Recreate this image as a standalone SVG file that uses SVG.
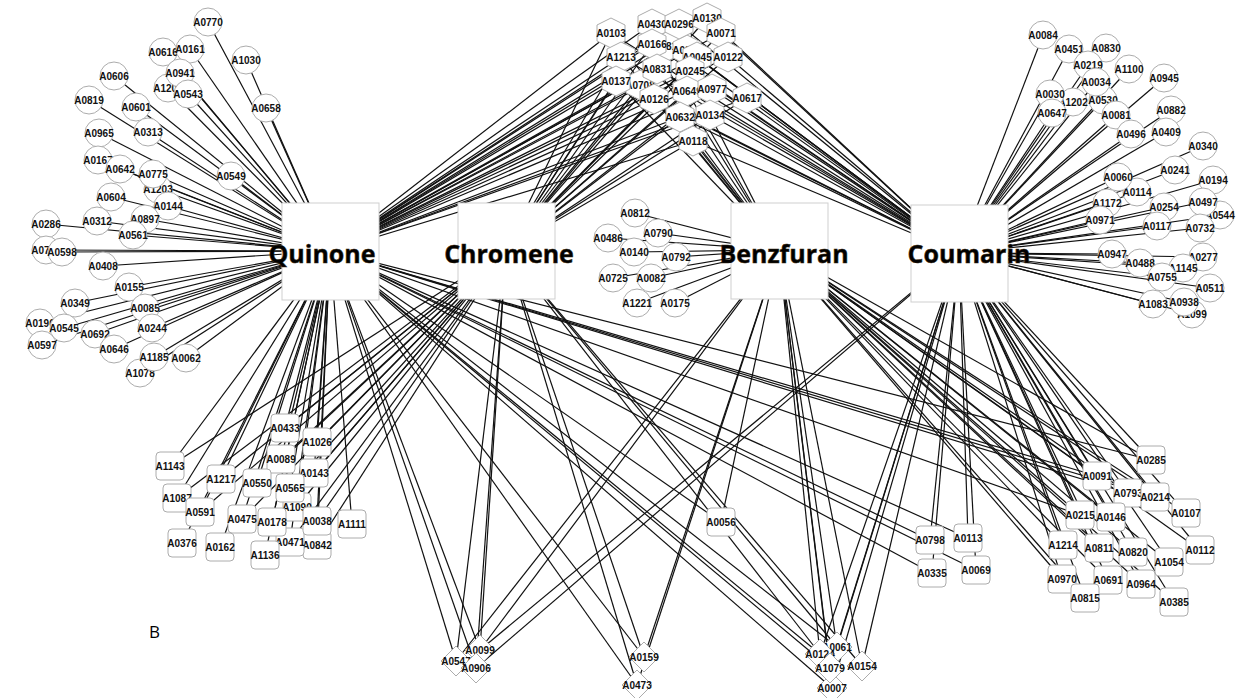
<svg xmlns="http://www.w3.org/2000/svg" width="1244" height="698" viewBox="0 0 1244 698">
<style>
.e line{stroke:#111;stroke-width:1.2;fill:none}
.n use{fill:#fff;stroke:#acacac;stroke-width:1}
.n text{font-family:"Liberation Sans",Arial,sans-serif;font-weight:bold;font-size:10px;fill:#111;text-anchor:middle}
.box rect{fill:#fff;stroke:#cfcfcf;stroke-width:1}
.box text{font-family:"Open Sans","Noto Sans",sans-serif;font-weight:bold;font-size:25px;fill:#000;stroke:#3a2a10;stroke-width:0.5;text-anchor:middle}
</style>
<defs>
<circle id="ci" r="14"/>
<polygon id="hx" points="0,-15 14,-8 14,8 0,15 -14,8 -14,-8"/>
<rect id="rr" x="-14" y="-14" width="28" height="28" rx="4"/>
<polygon id="dm" points="0,-15 15,0 0,15 -15,0"/>
</defs>
<rect width="1244" height="698" fill="#fff"/>
<g id="connectors" class="e">
<line x1="208" y1="22" x2="330" y2="251"/><line x1="246" y1="60" x2="330" y2="251"/><line x1="163" y1="52" x2="330" y2="251"/><line x1="190" y1="49" x2="330" y2="251"/><line x1="180" y1="73" x2="330" y2="251"/><line x1="168" y1="88" x2="330" y2="251"/><line x1="188" y1="94" x2="330" y2="251"/><line x1="114" y1="76" x2="330" y2="251"/><line x1="89" y1="100" x2="330" y2="251"/><line x1="136" y1="107" x2="330" y2="251"/><line x1="266" y1="108" x2="330" y2="251"/><line x1="148" y1="132" x2="330" y2="251"/><line x1="99" y1="133" x2="330" y2="251"/><line x1="231" y1="176" x2="330" y2="251"/><line x1="98" y1="160" x2="330" y2="251"/><line x1="120" y1="169" x2="330" y2="251"/><line x1="153" y1="174" x2="330" y2="251"/><line x1="158" y1="189" x2="330" y2="251"/><line x1="111" y1="197" x2="330" y2="251"/><line x1="168" y1="206" x2="330" y2="251"/><line x1="97" y1="221" x2="330" y2="251"/><line x1="145" y1="219" x2="330" y2="251"/><line x1="46" y1="224" x2="330" y2="251"/><line x1="133" y1="235" x2="330" y2="251"/><line x1="46" y1="250" x2="330" y2="251"/><line x1="62" y1="252" x2="330" y2="251"/><line x1="103" y1="266" x2="330" y2="251"/><line x1="129" y1="287" x2="330" y2="251"/><line x1="75" y1="303" x2="330" y2="251"/><line x1="145" y1="308" x2="330" y2="251"/><line x1="40" y1="323" x2="330" y2="251"/><line x1="64" y1="328" x2="330" y2="251"/><line x1="95" y1="334" x2="330" y2="251"/><line x1="152" y1="328" x2="330" y2="251"/><line x1="42" y1="345" x2="330" y2="251"/><line x1="114" y1="349" x2="330" y2="251"/><line x1="154" y1="357" x2="330" y2="251"/><line x1="186" y1="358" x2="330" y2="251"/><line x1="140" y1="373" x2="330" y2="251"/>
<line x1="1043" y1="35" x2="959" y2="253"/><line x1="1069" y1="49" x2="959" y2="253"/><line x1="1106" y1="48" x2="959" y2="253"/><line x1="1088" y1="65" x2="959" y2="253"/><line x1="1129" y1="69" x2="959" y2="253"/><line x1="1164" y1="78" x2="959" y2="253"/><line x1="1096" y1="82" x2="959" y2="253"/><line x1="1050" y1="94" x2="959" y2="253"/><line x1="1073" y1="102" x2="959" y2="253"/><line x1="1103" y1="100" x2="959" y2="253"/><line x1="1052" y1="113" x2="959" y2="253"/><line x1="1116" y1="115" x2="959" y2="253"/><line x1="1171" y1="110" x2="959" y2="253"/><line x1="1131" y1="134" x2="959" y2="253"/><line x1="1166" y1="132" x2="959" y2="253"/><line x1="1203" y1="146" x2="959" y2="253"/><line x1="1118" y1="177" x2="959" y2="253"/><line x1="1175" y1="170" x2="959" y2="253"/><line x1="1213" y1="180" x2="959" y2="253"/><line x1="1137" y1="192" x2="959" y2="253"/><line x1="1107" y1="203" x2="959" y2="253"/><line x1="1164" y1="207" x2="959" y2="253"/><line x1="1203" y1="202" x2="959" y2="253"/><line x1="1220" y1="215" x2="959" y2="253"/><line x1="1100" y1="220" x2="959" y2="253"/><line x1="1157" y1="226" x2="959" y2="253"/><line x1="1200" y1="228" x2="959" y2="253"/><line x1="1112" y1="254" x2="959" y2="253"/><line x1="1140" y1="263" x2="959" y2="253"/><line x1="1203" y1="257" x2="959" y2="253"/><line x1="1183" y1="268" x2="959" y2="253"/><line x1="1162" y1="277" x2="959" y2="253"/><line x1="1210" y1="288" x2="959" y2="253"/><line x1="1153" y1="304" x2="959" y2="253"/><line x1="1184" y1="302" x2="959" y2="253"/><line x1="1192" y1="314" x2="959" y2="253"/>
<line x1="635" y1="213" x2="779" y2="250"/><line x1="608" y1="238" x2="779" y2="250"/><line x1="658" y1="233" x2="779" y2="250"/><line x1="634" y1="252" x2="779" y2="250"/><line x1="676" y1="257" x2="779" y2="250"/><line x1="613" y1="278" x2="779" y2="250"/><line x1="651" y1="278" x2="779" y2="250"/><line x1="637" y1="303" x2="779" y2="250"/><line x1="675" y1="303" x2="779" y2="250"/>
<line x1="611" y1="33" x2="330" y2="251"/><line x1="652" y1="24" x2="330" y2="251"/><line x1="679" y1="24" x2="330" y2="251"/><line x1="707" y1="18" x2="330" y2="251"/><line x1="721" y1="33" x2="330" y2="251"/><line x1="652" y1="44" x2="330" y2="251"/><line x1="668" y1="46" x2="330" y2="251"/><line x1="687" y1="50" x2="330" y2="251"/><line x1="621" y1="57" x2="330" y2="251"/><line x1="697" y1="57" x2="330" y2="251"/><line x1="728" y1="57" x2="330" y2="251"/><line x1="657" y1="69" x2="330" y2="251"/><line x1="690" y1="71" x2="330" y2="251"/><line x1="616" y1="81" x2="330" y2="251"/><line x1="640" y1="85" x2="330" y2="251"/><line x1="687" y1="91" x2="330" y2="251"/><line x1="712" y1="89" x2="330" y2="251"/><line x1="747" y1="98" x2="330" y2="251"/><line x1="654" y1="99" x2="330" y2="251"/><line x1="680" y1="117" x2="330" y2="251"/><line x1="710" y1="115" x2="330" y2="251"/><line x1="693" y1="141" x2="330" y2="251"/>
<line x1="611" y1="33" x2="506" y2="250"/><line x1="652" y1="24" x2="506" y2="250"/><line x1="679" y1="24" x2="506" y2="250"/><line x1="707" y1="18" x2="506" y2="250"/><line x1="721" y1="33" x2="506" y2="250"/><line x1="652" y1="44" x2="506" y2="250"/><line x1="621" y1="57" x2="506" y2="250"/><line x1="697" y1="57" x2="506" y2="250"/><line x1="728" y1="57" x2="506" y2="250"/><line x1="657" y1="69" x2="506" y2="250"/><line x1="690" y1="71" x2="506" y2="250"/><line x1="616" y1="81" x2="506" y2="250"/><line x1="640" y1="85" x2="506" y2="250"/><line x1="687" y1="91" x2="506" y2="250"/><line x1="712" y1="89" x2="506" y2="250"/><line x1="747" y1="98" x2="506" y2="250"/><line x1="654" y1="99" x2="506" y2="250"/><line x1="680" y1="117" x2="506" y2="250"/><line x1="710" y1="115" x2="506" y2="250"/><line x1="693" y1="141" x2="506" y2="250"/>
<line x1="611" y1="33" x2="779" y2="250"/><line x1="621" y1="57" x2="779" y2="250"/><line x1="616" y1="81" x2="779" y2="250"/><line x1="652" y1="44" x2="779" y2="250"/><line x1="657" y1="69" x2="779" y2="250"/><line x1="654" y1="99" x2="779" y2="250"/><line x1="687" y1="91" x2="779" y2="250"/><line x1="680" y1="117" x2="779" y2="250"/><line x1="710" y1="115" x2="779" y2="250"/><line x1="693" y1="141" x2="779" y2="250"/>
<line x1="611" y1="33" x2="959" y2="253"/><line x1="652" y1="24" x2="959" y2="253"/><line x1="679" y1="24" x2="959" y2="253"/><line x1="707" y1="18" x2="959" y2="253"/><line x1="721" y1="33" x2="959" y2="253"/><line x1="652" y1="44" x2="959" y2="253"/><line x1="668" y1="46" x2="959" y2="253"/><line x1="687" y1="50" x2="959" y2="253"/><line x1="621" y1="57" x2="959" y2="253"/><line x1="697" y1="57" x2="959" y2="253"/><line x1="728" y1="57" x2="959" y2="253"/><line x1="657" y1="69" x2="959" y2="253"/><line x1="690" y1="71" x2="959" y2="253"/><line x1="616" y1="81" x2="959" y2="253"/><line x1="687" y1="91" x2="959" y2="253"/><line x1="712" y1="89" x2="959" y2="253"/><line x1="747" y1="98" x2="959" y2="253"/><line x1="654" y1="99" x2="959" y2="253"/><line x1="680" y1="117" x2="959" y2="253"/><line x1="710" y1="115" x2="959" y2="253"/><line x1="693" y1="141" x2="959" y2="253"/>
<line x1="170" y1="466" x2="330" y2="251"/><line x1="285" y1="428" x2="330" y2="251"/><line x1="317" y1="442" x2="330" y2="251"/><line x1="281" y1="459" x2="330" y2="251"/><line x1="314" y1="473" x2="330" y2="251"/><line x1="221" y1="479" x2="330" y2="251"/><line x1="257" y1="483" x2="330" y2="251"/><line x1="290" y1="488" x2="330" y2="251"/><line x1="177" y1="498" x2="330" y2="251"/><line x1="200" y1="512" x2="330" y2="251"/><line x1="297" y1="507" x2="330" y2="251"/><line x1="242" y1="519" x2="330" y2="251"/><line x1="272" y1="522" x2="330" y2="251"/><line x1="317" y1="521" x2="330" y2="251"/><line x1="352" y1="524" x2="330" y2="251"/><line x1="182" y1="543" x2="330" y2="251"/><line x1="220" y1="547" x2="330" y2="251"/><line x1="290" y1="542" x2="330" y2="251"/><line x1="317" y1="545" x2="330" y2="251"/><line x1="265" y1="555" x2="330" y2="251"/>
<line x1="170" y1="466" x2="506" y2="250"/><line x1="285" y1="428" x2="506" y2="250"/><line x1="317" y1="442" x2="506" y2="250"/><line x1="281" y1="459" x2="506" y2="250"/><line x1="314" y1="473" x2="506" y2="250"/><line x1="221" y1="479" x2="506" y2="250"/><line x1="257" y1="483" x2="506" y2="250"/><line x1="290" y1="488" x2="506" y2="250"/><line x1="177" y1="498" x2="506" y2="250"/><line x1="200" y1="512" x2="506" y2="250"/><line x1="297" y1="507" x2="506" y2="250"/><line x1="242" y1="519" x2="506" y2="250"/><line x1="272" y1="522" x2="506" y2="250"/><line x1="317" y1="521" x2="506" y2="250"/><line x1="290" y1="542" x2="506" y2="250"/><line x1="317" y1="545" x2="506" y2="250"/>
<line x1="1151" y1="460" x2="959" y2="253"/><line x1="1097" y1="476" x2="959" y2="253"/><line x1="1128" y1="493" x2="959" y2="253"/><line x1="1155" y1="497" x2="959" y2="253"/><line x1="1186" y1="513" x2="959" y2="253"/><line x1="1080" y1="515" x2="959" y2="253"/><line x1="1111" y1="517" x2="959" y2="253"/><line x1="1063" y1="545" x2="959" y2="253"/><line x1="1099" y1="548" x2="959" y2="253"/><line x1="1133" y1="552" x2="959" y2="253"/><line x1="1200" y1="550" x2="959" y2="253"/><line x1="1169" y1="562" x2="959" y2="253"/><line x1="1062" y1="579" x2="959" y2="253"/><line x1="1108" y1="580" x2="959" y2="253"/><line x1="1141" y1="584" x2="959" y2="253"/><line x1="1085" y1="598" x2="959" y2="253"/><line x1="1174" y1="602" x2="959" y2="253"/>
<line x1="1151" y1="460" x2="779" y2="250"/><line x1="1097" y1="476" x2="779" y2="250"/><line x1="1128" y1="493" x2="779" y2="250"/><line x1="1155" y1="497" x2="779" y2="250"/><line x1="1186" y1="513" x2="779" y2="250"/><line x1="1080" y1="515" x2="779" y2="250"/><line x1="1111" y1="517" x2="779" y2="250"/><line x1="1063" y1="545" x2="779" y2="250"/><line x1="1099" y1="548" x2="779" y2="250"/><line x1="1133" y1="552" x2="779" y2="250"/><line x1="1200" y1="550" x2="779" y2="250"/><line x1="1169" y1="562" x2="779" y2="250"/><line x1="1062" y1="579" x2="779" y2="250"/><line x1="1108" y1="580" x2="779" y2="250"/><line x1="1141" y1="584" x2="779" y2="250"/><line x1="1085" y1="598" x2="779" y2="250"/><line x1="1174" y1="602" x2="779" y2="250"/>
<line x1="1151" y1="460" x2="330" y2="251"/><line x1="1097" y1="476" x2="330" y2="251"/><line x1="1128" y1="493" x2="330" y2="251"/><line x1="1155" y1="497" x2="330" y2="251"/><line x1="1080" y1="515" x2="330" y2="251"/>
<line x1="721" y1="522" x2="779" y2="250"/><line x1="721" y1="522" x2="330" y2="251"/>
<line x1="930" y1="540" x2="330" y2="251"/><line x1="930" y1="540" x2="959" y2="253"/><line x1="968" y1="538" x2="330" y2="251"/><line x1="968" y1="538" x2="959" y2="253"/><line x1="932" y1="573" x2="330" y2="251"/><line x1="932" y1="573" x2="959" y2="253"/><line x1="976" y1="570" x2="330" y2="251"/><line x1="976" y1="570" x2="959" y2="253"/>
<line x1="480" y1="650" x2="330" y2="251"/><line x1="480" y1="650" x2="506" y2="250"/><line x1="480" y1="650" x2="779" y2="250"/><line x1="480" y1="650" x2="959" y2="253"/>
<line x1="456" y1="661" x2="330" y2="251"/><line x1="456" y1="661" x2="506" y2="250"/><line x1="456" y1="661" x2="779" y2="250"/>
<line x1="476" y1="668" x2="330" y2="251"/><line x1="476" y1="668" x2="506" y2="250"/><line x1="476" y1="668" x2="959" y2="253"/>
<line x1="644" y1="657" x2="330" y2="251"/><line x1="644" y1="657" x2="506" y2="250"/><line x1="644" y1="657" x2="779" y2="250"/>
<line x1="637" y1="685" x2="330" y2="251"/><line x1="637" y1="685" x2="506" y2="250"/><line x1="637" y1="685" x2="779" y2="250"/>
<line x1="837" y1="647" x2="330" y2="251"/><line x1="837" y1="647" x2="506" y2="250"/><line x1="837" y1="647" x2="779" y2="250"/><line x1="837" y1="647" x2="959" y2="253"/>
<line x1="820" y1="654" x2="330" y2="251"/><line x1="820" y1="654" x2="506" y2="250"/><line x1="820" y1="654" x2="779" y2="250"/><line x1="820" y1="654" x2="959" y2="253"/>
<line x1="830" y1="668" x2="330" y2="251"/><line x1="830" y1="668" x2="779" y2="250"/><line x1="830" y1="668" x2="959" y2="253"/>
<line x1="862" y1="666" x2="506" y2="250"/><line x1="862" y1="666" x2="779" y2="250"/><line x1="862" y1="666" x2="959" y2="253"/>
<line x1="832" y1="688" x2="330" y2="251"/><line x1="832" y1="688" x2="779" y2="250"/><line x1="832" y1="688" x2="959" y2="253"/>
</g>
<g class="box">
<g id="Quinone"><rect x="282" y="203" width="97" height="97"/><text x="322" y="263">Quinone</text></g>
<g id="Chromene"><rect x="458" y="203" width="97" height="96"/><text x="509" y="263">Chromene</text></g>
<g id="Benzfuran"><rect x="731" y="203" width="97" height="96"/><text x="784" y="263">Benzfuran</text></g>
<g id="Coumarin"><rect x="911" y="205" width="97" height="97"/><text x="969" y="263">Coumarin</text></g>
</g>
<g class="n">
<g id="A0770" transform="translate(208,22)"><use href="#ci"/><text y="3.5">A0770</text></g>
<g id="A1030" transform="translate(246,60)"><use href="#ci"/><text y="3.5">A1030</text></g>
<g id="A0616" transform="translate(163,52)"><use href="#ci"/><text y="3.5">A0616</text></g>
<g id="A0161" transform="translate(190,49)"><use href="#ci"/><text y="3.5">A0161</text></g>
<g id="A1200" transform="translate(168,88)"><use href="#ci"/><text y="3.5">A1200</text></g>
<g id="A0941" transform="translate(180,73)"><use href="#ci"/><text y="3.5">A0941</text></g>
<g id="A0543" transform="translate(188,94)"><use href="#ci"/><text y="3.5">A0543</text></g>
<g id="A0606" transform="translate(114,76)"><use href="#ci"/><text y="3.5">A0606</text></g>
<g id="A0819" transform="translate(89,100)"><use href="#ci"/><text y="3.5">A0819</text></g>
<g id="A0601" transform="translate(136,107)"><use href="#ci"/><text y="3.5">A0601</text></g>
<g id="A0658" transform="translate(266,108)"><use href="#ci"/><text y="3.5">A0658</text></g>
<g id="A0313" transform="translate(148,132)"><use href="#ci"/><text y="3.5">A0313</text></g>
<g id="A0965" transform="translate(99,133)"><use href="#ci"/><text y="3.5">A0965</text></g>
<g id="A0549" transform="translate(231,176)"><use href="#ci"/><text y="3.5">A0549</text></g>
<g id="A0167" transform="translate(98,160)"><use href="#ci"/><text y="3.5">A0167</text></g>
<g id="A0642" transform="translate(120,169)"><use href="#ci"/><text y="3.5">A0642</text></g>
<g id="A1203" transform="translate(158,189)"><use href="#ci"/><text y="3.5">A1203</text></g>
<g id="A0775" transform="translate(153,174)"><use href="#ci"/><text y="3.5">A0775</text></g>
<g id="A0604" transform="translate(111,197)"><use href="#ci"/><text y="3.5">A0604</text></g>
<g id="A0144" transform="translate(168,206)"><use href="#ci"/><text y="3.5">A0144</text></g>
<g id="A0312" transform="translate(97,221)"><use href="#ci"/><text y="3.5">A0312</text></g>
<g id="A0897" transform="translate(145,219)"><use href="#ci"/><text y="3.5">A0897</text></g>
<g id="A0286" transform="translate(46,224)"><use href="#ci"/><text y="3.5">A0286</text></g>
<g id="A0561" transform="translate(133,235)"><use href="#ci"/><text y="3.5">A0561</text></g>
<g id="A0787" transform="translate(46,250)"><use href="#ci"/><text y="3.5">A0787</text></g>
<g id="A0598" transform="translate(62,252)"><use href="#ci"/><text y="3.5">A0598</text></g>
<g id="A0408" transform="translate(103,266)"><use href="#ci"/><text y="3.5">A0408</text></g>
<g id="A0155" transform="translate(129,287)"><use href="#ci"/><text y="3.5">A0155</text></g>
<g id="A0349" transform="translate(75,303)"><use href="#ci"/><text y="3.5">A0349</text></g>
<g id="A0085" transform="translate(145,308)"><use href="#ci"/><text y="3.5">A0085</text></g>
<g id="A0196" transform="translate(40,323)"><use href="#ci"/><text y="3.5">A0196</text></g>
<g id="A0597" transform="translate(42,345)"><use href="#ci"/><text y="3.5">A0597</text></g>
<g id="A0545" transform="translate(64,328)"><use href="#ci"/><text y="3.5">A0545</text></g>
<g id="A0692" transform="translate(95,334)"><use href="#ci"/><text y="3.5">A0692</text></g>
<g id="A0244" transform="translate(152,328)"><use href="#ci"/><text y="3.5">A0244</text></g>
<g id="A0646" transform="translate(114,349)"><use href="#ci"/><text y="3.5">A0646</text></g>
<g id="A1078" transform="translate(140,373)"><use href="#ci"/><text y="3.5">A1078</text></g>
<g id="A1185" transform="translate(154,357)"><use href="#ci"/><text y="3.5">A1185</text></g>
<g id="A0062" transform="translate(186,358)"><use href="#ci"/><text y="3.5">A0062</text></g>

<g id="A0084" transform="translate(1043,35)"><use href="#ci"/><text y="3.5">A0084</text></g>
<g id="A0451" transform="translate(1069,49)"><use href="#ci"/><text y="3.5">A0451</text></g>
<g id="A0830" transform="translate(1106,48)"><use href="#ci"/><text y="3.5">A0830</text></g>
<g id="A0219" transform="translate(1088,65)"><use href="#ci"/><text y="3.5">A0219</text></g>
<g id="A1100" transform="translate(1129,69)"><use href="#ci"/><text y="3.5">A1100</text></g>
<g id="A0945" transform="translate(1164,78)"><use href="#ci"/><text y="3.5">A0945</text></g>
<g id="A0530" transform="translate(1103,100)"><use href="#ci"/><text y="3.5">A0530</text></g>
<g id="A0034" transform="translate(1096,82)"><use href="#ci"/><text y="3.5">A0034</text></g>
<g id="A1202" transform="translate(1073,102)"><use href="#ci"/><text y="3.5">A1202</text></g>
<g id="A0030" transform="translate(1050,94)"><use href="#ci"/><text y="3.5">A0030</text></g>
<g id="A0647" transform="translate(1052,113)"><use href="#ci"/><text y="3.5">A0647</text></g>
<g id="A0081" transform="translate(1116,115)"><use href="#ci"/><text y="3.5">A0081</text></g>
<g id="A0882" transform="translate(1171,110)"><use href="#ci"/><text y="3.5">A0882</text></g>
<g id="A0496" transform="translate(1131,134)"><use href="#ci"/><text y="3.5">A0496</text></g>
<g id="A0409" transform="translate(1166,132)"><use href="#ci"/><text y="3.5">A0409</text></g>
<g id="A0340" transform="translate(1203,146)"><use href="#ci"/><text y="3.5">A0340</text></g>
<g id="A0114" transform="translate(1137,192)"><use href="#ci"/><text y="3.5">A0114</text></g>
<g id="A0060" transform="translate(1118,177)"><use href="#ci"/><text y="3.5">A0060</text></g>
<g id="A0241" transform="translate(1175,170)"><use href="#ci"/><text y="3.5">A0241</text></g>
<g id="A0194" transform="translate(1213,180)"><use href="#ci"/><text y="3.5">A0194</text></g>
<g id="A1172" transform="translate(1107,203)"><use href="#ci"/><text y="3.5">A1172</text></g>
<g id="A0544" transform="translate(1220,215)"><use href="#ci"/><text y="3.5">A0544</text></g>
<g id="A0497" transform="translate(1203,202)"><use href="#ci"/><text y="3.5">A0497</text></g>
<g id="A0254" transform="translate(1164,207)"><use href="#ci"/><text y="3.5">A0254</text></g>
<g id="A0971" transform="translate(1100,220)"><use href="#ci"/><text y="3.5">A0971</text></g>
<g id="A0732" transform="translate(1200,228)"><use href="#ci"/><text y="3.5">A0732</text></g>
<g id="A0117" transform="translate(1157,226)"><use href="#ci"/><text y="3.5">A0117</text></g>
<g id="A0277" transform="translate(1203,257)"><use href="#ci"/><text y="3.5">A0277</text></g>
<g id="A1145" transform="translate(1183,268)"><use href="#ci"/><text y="3.5">A1145</text></g>
<g id="A0947" transform="translate(1112,254)"><use href="#ci"/><text y="3.5">A0947</text></g>
<g id="A0488" transform="translate(1140,263)"><use href="#ci"/><text y="3.5">A0488</text></g>
<g id="A0755" transform="translate(1162,277)"><use href="#ci"/><text y="3.5">A0755</text></g>
<g id="A0511" transform="translate(1210,288)"><use href="#ci"/><text y="3.5">A0511</text></g>
<g id="A1099" transform="translate(1192,314)"><use href="#ci"/><text y="3.5">A1099</text></g>
<g id="A1083" transform="translate(1153,304)"><use href="#ci"/><text y="3.5">A1083</text></g>
<g id="A0938" transform="translate(1184,302)"><use href="#ci"/><text y="3.5">A0938</text></g>

<g id="A0812" transform="translate(635,213)"><use href="#ci"/><text y="3.5">A0812</text></g>
<g id="A0486" transform="translate(608,238)"><use href="#ci"/><text y="3.5">A0486</text></g>
<g id="A0790" transform="translate(658,233)"><use href="#ci"/><text y="3.5">A0790</text></g>
<g id="A0140" transform="translate(634,252)"><use href="#ci"/><text y="3.5">A0140</text></g>
<g id="A0792" transform="translate(676,257)"><use href="#ci"/><text y="3.5">A0792</text></g>
<g id="A0725" transform="translate(613,278)"><use href="#ci"/><text y="3.5">A0725</text></g>
<g id="A0082" transform="translate(651,278)"><use href="#ci"/><text y="3.5">A0082</text></g>
<g id="A1221" transform="translate(637,303)"><use href="#ci"/><text y="3.5">A1221</text></g>
<g id="A0175" transform="translate(675,303)"><use href="#ci"/><text y="3.5">A0175</text></g>

<g id="h-A0815" transform="translate(668,46)"><use href="#hx"/><text y="3.5">A0815</text></g>
<g id="A0354" transform="translate(687,50)"><use href="#hx"/><text y="3.5">A0354</text></g>
<g id="A0045" transform="translate(697,57)"><use href="#hx"/><text y="3.5">A0045</text></g>
<g id="A0708" transform="translate(640,85)"><use href="#hx"/><text y="3.5">A0708</text></g>
<g id="A0103" transform="translate(611,33)"><use href="#hx"/><text y="3.5">A0103</text></g>
<g id="A0430" transform="translate(652,24)"><use href="#hx"/><text y="3.5">A0430</text></g>
<g id="A0296" transform="translate(679,24)"><use href="#hx"/><text y="3.5">A0296</text></g>
<g id="A0130" transform="translate(707,18)"><use href="#hx"/><text y="3.5">A0130</text></g>
<g id="A0071" transform="translate(721,33)"><use href="#hx"/><text y="3.5">A0071</text></g>
<g id="A0166" transform="translate(652,44)"><use href="#hx"/><text y="3.5">A0166</text></g>
<g id="A1213" transform="translate(621,57)"><use href="#hx"/><text y="3.5">A1213</text></g>
<g id="A0122" transform="translate(728,57)"><use href="#hx"/><text y="3.5">A0122</text></g>
<g id="A0831" transform="translate(657,69)"><use href="#hx"/><text y="3.5">A0831</text></g>
<g id="A0245" transform="translate(690,71)"><use href="#hx"/><text y="3.5">A0245</text></g>
<g id="A0137" transform="translate(616,81)"><use href="#hx"/><text y="3.5">A0137</text></g>
<g id="A0649" transform="translate(687,91)"><use href="#hx"/><text y="3.5">A0649</text></g>
<g id="A0977" transform="translate(712,89)"><use href="#hx"/><text y="3.5">A0977</text></g>
<g id="A0617" transform="translate(747,98)"><use href="#hx"/><text y="3.5">A0617</text></g>
<g id="A0126" transform="translate(654,99)"><use href="#hx"/><text y="3.5">A0126</text></g>
<g id="A0632" transform="translate(680,117)"><use href="#hx"/><text y="3.5">A0632</text></g>
<g id="A0134" transform="translate(710,115)"><use href="#hx"/><text y="3.5">A0134</text></g>
<g id="A0118" transform="translate(693,141)"><use href="#hx"/><text y="3.5">A0118</text></g>

<g id="A0433" transform="translate(285,428)"><use href="#rr"/><text y="3.5">A0433</text></g>
<g id="A1026" transform="translate(317,442)"><use href="#rr"/><text y="3.5">A1026</text></g>
<g id="A0089" transform="translate(281,459)"><use href="#rr"/><text y="3.5">A0089</text></g>
<g id="A0143" transform="translate(314,473)"><use href="#rr"/><text y="3.5">A0143</text></g>
<g id="A1090" transform="translate(297,507)"><use href="#rr"/><text y="3.5">A1090</text></g>
<g id="A0565" transform="translate(290,488)"><use href="#rr"/><text y="3.5">A0565</text></g>
<g id="A1217" transform="translate(221,479)"><use href="#rr"/><text y="3.5">A1217</text></g>
<g id="A0550" transform="translate(257,483)"><use href="#rr"/><text y="3.5">A0550</text></g>
<g id="A1143" transform="translate(170,466)"><use href="#rr"/><text y="3.5">A1143</text></g>
<g id="A1087" transform="translate(177,498)"><use href="#rr"/><text y="3.5">A1087</text></g>
<g id="A0591" transform="translate(200,512)"><use href="#rr"/><text y="3.5">A0591</text></g>
<g id="A0475" transform="translate(242,519)"><use href="#rr"/><text y="3.5">A0475</text></g>
<g id="A0842" transform="translate(317,545)"><use href="#rr"/><text y="3.5">A0842</text></g>
<g id="A0471" transform="translate(290,542)"><use href="#rr"/><text y="3.5">A0471</text></g>
<g id="A0178" transform="translate(272,522)"><use href="#rr"/><text y="3.5">A0178</text></g>
<g id="A0038" transform="translate(317,521)"><use href="#rr"/><text y="3.5">A0038</text></g>
<g id="A1111" transform="translate(352,524)"><use href="#rr"/><text y="3.5">A1111</text></g>
<g id="A0376" transform="translate(182,543)"><use href="#rr"/><text y="3.5">A0376</text></g>
<g id="A0162" transform="translate(220,547)"><use href="#rr"/><text y="3.5">A0162</text></g>
<g id="A1136" transform="translate(265,555)"><use href="#rr"/><text y="3.5">A1136</text></g>

<g id="A0285" transform="translate(1151,460)"><use href="#rr"/><text y="3.5">A0285</text></g>
<g id="A0091" transform="translate(1097,476)"><use href="#rr"/><text y="3.5">A0091</text></g>
<g id="A0793" transform="translate(1128,493)"><use href="#rr"/><text y="3.5">A0793</text></g>
<g id="A0214" transform="translate(1155,497)"><use href="#rr"/><text y="3.5">A0214</text></g>
<g id="A0107" transform="translate(1186,513)"><use href="#rr"/><text y="3.5">A0107</text></g>
<g id="A0215" transform="translate(1080,515)"><use href="#rr"/><text y="3.5">A0215</text></g>
<g id="A0146" transform="translate(1111,517)"><use href="#rr"/><text y="3.5">A0146</text></g>
<g id="A1214" transform="translate(1063,545)"><use href="#rr"/><text y="3.5">A1214</text></g>
<g id="A0811" transform="translate(1099,548)"><use href="#rr"/><text y="3.5">A0811</text></g>
<g id="A0820" transform="translate(1133,552)"><use href="#rr"/><text y="3.5">A0820</text></g>
<g id="A0112" transform="translate(1200,550)"><use href="#rr"/><text y="3.5">A0112</text></g>
<g id="A1054" transform="translate(1169,562)"><use href="#rr"/><text y="3.5">A1054</text></g>
<g id="A0970" transform="translate(1062,579)"><use href="#rr"/><text y="3.5">A0970</text></g>
<g id="A0691" transform="translate(1108,580)"><use href="#rr"/><text y="3.5">A0691</text></g>
<g id="A0964" transform="translate(1141,584)"><use href="#rr"/><text y="3.5">A0964</text></g>
<g id="A0815" transform="translate(1085,598)"><use href="#rr"/><text y="3.5">A0815</text></g>
<g id="A0385" transform="translate(1174,602)"><use href="#rr"/><text y="3.5">A0385</text></g>

<g id="A0056" transform="translate(721,522)"><use href="#rr"/><text y="3.5">A0056</text></g>
<g id="A0798" transform="translate(930,540)"><use href="#rr"/><text y="3.5">A0798</text></g>
<g id="A0113" transform="translate(968,538)"><use href="#rr"/><text y="3.5">A0113</text></g>
<g id="A0335" transform="translate(932,573)"><use href="#rr"/><text y="3.5">A0335</text></g>
<g id="A0069" transform="translate(976,570)"><use href="#rr"/><text y="3.5">A0069</text></g>

<g id="A0547" transform="translate(456,661)"><use href="#dm"/><text y="3.5">A0547</text></g>
<g id="A0099" transform="translate(480,650)"><use href="#dm"/><text y="3.5">A0099</text></g>
<g id="A0906" transform="translate(476,668)"><use href="#dm"/><text y="3.5">A0906</text></g>
<g id="A0473" transform="translate(637,685)"><use href="#dm"/><text y="3.5">A0473</text></g>
<g id="A0159" transform="translate(644,657)"><use href="#dm"/><text y="3.5">A0159</text></g>
<g id="A0061" transform="translate(837,647)"><use href="#dm"/><text y="3.5">A0061</text></g>
<g id="A0124" transform="translate(820,654)"><use href="#dm"/><text y="3.5">A0124</text></g>
<g id="A0007" transform="translate(832,688)"><use href="#dm"/><text y="3.5">A0007</text></g>
<g id="A1079" transform="translate(830,668)"><use href="#dm"/><text y="3.5">A1079</text></g>
<g id="A0154" transform="translate(862,666)"><use href="#dm"/><text y="3.5">A0154</text></g>
</g>
<text x="149" y="638" font-family="Open Sans, Noto Sans, sans-serif" font-size="17" fill="#000">B</text>
</svg>
